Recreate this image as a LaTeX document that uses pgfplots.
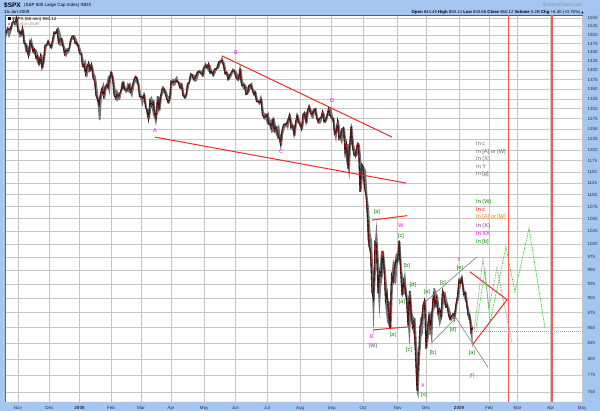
\documentclass[border=0pt]{standalone}
\usepackage{pgfplots}
\pgfplotsset{compat=1.18}
\usepackage{pgfplotstable}
\usepgfplotslibrary{fillbetween}
\usepackage{fontspec}
\setmainfont{Liberation Sans}
\newfontfamily\djv{DejaVu Sans}
\definecolor{frameblue}{RGB}{164,198,240}
\definecolor{mag}{RGB}{240,0,240}
\definecolor{ewgreen}{RGB}{0,140,0}
\definecolor{ewpurple}{RGB}{130,50,150}
\definecolor{eworange}{RGB}{255,120,0}
\definecolor{trendred}{RGB}{250,40,40}
\definecolor{vred}{RGB}{255,90,90}
\definecolor{gridgray}{RGB}{224,224,224}
\definecolor{projgreen}{RGB}{40,220,40}
\pgfplotstableread{
i hi lo cl
0 1508 1490 1506
1 1520 1507 1520
2 1520 1489 1516
3 1524 1503 1515
4 1535 1516 1535
5 1544 1535 1540
6 1540 1530 1531
7 1552 1529 1549
8 1548 1507 1509
9 1515 1492 1510
10 1510 1494 1502
11 1521 1499 1520
12 1515 1475 1476
13 1479 1450 1475
14 1474 1453 1453
15 1464 1439 1439
16 1482 1441 1482
17 1493 1466 1471
18 1473 1449 1452
19 1459 1443 1459
20 1459 1431 1434
21 1452 1419 1439
22 1436 1415 1417
23 1440 1418 1440
24 1446 1406 1407
25 1429 1407 1428
26 1470 1428 1470
27 1474 1464 1471
28 1488 1470 1481
29 1481 1470 1472
30 1471 1460 1463
31 1486 1463 1485
32 1508 1483 1508
33 1510 1502 1505
34 1518 1504 1515
35 1523 1476 1477
36 1511 1468 1486
37 1492 1469 1489
38 1488 1467 1468
39 1468 1445 1445
40 1460 1435 1455
41 1462 1446 1454
42 1461 1448 1460
43 1485 1463 1485
44 1497 1484 1496
45 1499 1488 1497
46 1498 1476 1476
47 1488 1468 1478
48 1477 1467 1468
49 1471 1443 1447
50 1456 1443 1447
51 1445 1411 1411
52 1423 1404 1416
53 1430 1389 1390
54 1410 1379 1409
55 1427 1396 1420
56 1417 1395 1401
57 1417 1403 1416
58 1412 1380 1380
59 1391 1365 1373
60 1383 1330 1333
61 1350 1313 1325
62 1322 1271 1310
63 1340 1271 1339
64 1355 1336 1352
65 1369 1330 1331
66 1353 1322 1353
67 1364 1350 1362
68 1385 1352 1355
69 1385 1335 1379
70 1396 1375 1395
71 1395 1379 1380
72 1380 1336 1336
73 1351 1325 1326
74 1347 1317 1336
75 1341 1324 1331
76 1341 1320 1340
77 1369 1340 1349
78 1369 1350 1367
79 1370 1347 1348
80 1350 1338 1349
81 1368 1344 1348
82 1363 1341 1360
83 1367 1339 1343
84 1354 1326 1353
85 1373 1347 1371
86 1388 1368 1381
87 1384 1365 1381
88 1380 1362 1364
89 1364 1329 1331
90 1336 1321 1331
91 1332 1305 1327
92 1344 1321 1334
93 1333 1304 1304
94 1303 1279 1294
95 1296 1272 1273
96 1321 1275 1321
97 1333 1306 1308
98 1321 1283 1316
99 1321 1274 1289
100 1284 1256 1277
101 1331 1283 1331
102 1331 1299 1299
103 1330 1295 1330
104 1359 1330 1350
105 1357 1341 1352
106 1352 1336 1342
107 1345 1325 1326
108 1334 1312 1316
109 1328 1313 1323
110 1371 1326 1371
111 1378 1361 1368
112 1375 1358 1370
113 1380 1362 1370
114 1386 1369 1373
115 1371 1360 1366
116 1368 1350 1354
117 1367 1350 1361
118 1361 1332 1333
119 1335 1324 1329
120 1337 1325 1335
121 1366 1335 1365
122 1368 1358 1366
123 1395 1370 1390
124 1390 1383 1389
125 1389 1371 1376
126 1386 1370 1379
127 1396 1370 1388
128 1398 1380 1397
129 1402 1394 1396
130 1398 1390 1391
131 1404 1384 1386
132 1410 1383 1409
133 1422 1406 1414
134 1415 1405 1407
135 1419 1397 1418
136 1418 1392 1393
137 1405 1390 1397
138 1395 1382 1389
139 1404 1386 1404
140 1407 1396 1403
141 1420 1404 1408
142 1424 1405 1424
143 1427 1418 1426
144 1440 1421 1427
145 1427 1406 1414
146 1419 1388 1391
147 1399 1388 1394
148 1394 1373 1376
149 1387 1373 1386
150 1394 1381 1393
151 1406 1390 1399
152 1404 1396 1400
153 1400 1377 1385
154 1396 1373 1378
155 1386 1370 1377
156 1405 1377 1404
157 1404 1359 1361
158 1370 1350 1361
159 1366 1351 1358
160 1361 1335 1336
161 1354 1336 1339
162 1361 1340 1360
163 1365 1350 1361
164 1368 1350 1350
165 1350 1333 1338
166 1347 1330 1342
167 1342 1317 1318
168 1323 1315 1318
169 1323 1308 1315
170 1336 1315 1322
171 1321 1283 1283
172 1288 1272 1278
173 1290 1274 1280
174 1285 1261 1285
175 1292 1261 1262
176 1272 1252 1263
177 1273 1240 1253
178 1274 1242 1273
179 1277 1245 1245
180 1257 1236 1254
181 1254 1225 1240
182 1262 1228 1229
183 1234 1200 1215
184 1246 1211 1245
185 1263 1241 1260
186 1263 1253 1261
187 1267 1255 1261
188 1277 1248 1272
189 1291 1269 1283
190 1282 1251 1252
191 1263 1251 1257
192 1257 1234 1235
193 1264 1233 1264
194 1285 1264 1284
195 1285 1264 1267
196 1270 1254 1260
197 1260 1247 1249
198 1285 1249 1285
199 1291 1276 1290
200 1289 1264 1266
201 1297 1263 1296
202 1313 1293 1305
203 1304 1285 1289
204 1294 1274 1285
205 1301 1276 1293
206 1301 1290 1298
207 1303 1275 1278
208 1278 1263 1267
209 1277 1262 1275
210 1280 1264 1278
211 1294 1278 1292
212 1292 1266 1267
213 1276 1263 1271
214 1288 1269 1282
215 1300 1282 1300
216 1300 1282 1283
217 1303 1272 1277
218 1280 1265 1275
219 1274 1237 1237
220 1244 1217 1242
221 1274 1247 1268
222 1270 1224 1225
223 1243 1221 1231
224 1250 1212 1250
225 1256 1234 1252
226 1250 1192 1193
227 1214 1170 1214
228 1214 1156 1157
229 1211 1133 1206
230 1265 1213 1255
231 1255 1206 1207
232 1214 1187 1188
233 1197 1180 1186
234 1220 1187 1209
235 1215 1187 1213
236 1210 1106 1106
237 1170 1107 1166
238 1166 1141 1161
239 1160 1112 1115
240 1153 1097 1099
241 1097 1008 1056
242 1072 996 996
243 1022 968 985
244 1005 909 910
245 937 840 899
246 1006 912 1003
247 1045 972 998
248 995 908 908
249 948 866 946
250 985 918 940
251 986 937 986
252 985 953 955
253 955 883 896
254 922 860 909
255 895 853 877
256 893 846 848
257 941 849 941
258 970 922 930
259 964 928 954
260 984 923 969
261 975 958 966
262 1007 971 1006
263 1003 952 953
264 952 900 905
265 931 906 931
266 951 907 919
267 918 884 899
268 897 852 853
269 913 818 912
270 912 868 873
271 873 848 851
272 866 835 860
273 865 806 807
274 820 747 752
275 801 741 800
276 865 801 852
277 868 835 857
278 888 841 887
279 897 887 896
280 896 815 816
281 850 818 849
282 871 837 871
283 875 840 846
284 879 819 876
285 918 877 910
286 917 883 889
287 908 885 899
288 904 868 873
289 883 851 880
290 880 860 869
291 914 869 913
292 911 895 904
293 911 883 885
294 897 883 888
295 887 866 872
296 880 862 864
297 869 861 869
298 873 866 873
299 874 858 870
300 891 870 890
301 910 889 903
302 934 899 932
303 936 919 927
304 943 927 935
305 927 902 907
306 910 896 910
307 911 888 891
308 890 864 871
309 877 862 872
310 867 836 842
311 852 817 850
}\spx
\tikzset{ew/.style={font=\fontsize{5.5}{6}\selectfont, inner sep=0pt},
         tb/.style={font=\fontsize{5.6}{6}\selectfont, inner sep=0pt, anchor=west}}
\begin{document}
\begin{tikzpicture}
\fill[frameblue, even odd rule] (0pt,0pt) rectangle (600pt,411pt) (5pt,9pt) rectangle (583pt,396pt);
\begin{axis}[
  at={(5pt,9pt)}, anchor=south west,
  scale only axis, width=578pt, height=387pt,
  xmin=-0.667, xmax=384.667,
  ymode=log, ymin=735.6, ymax=1559,
  axis background/.style={fill=white},
  axis line style={draw=black!65},
  xtick={8,29,49,70,90,110,132,153,174,196,217,238,261,280,302,322,341,363,384},
  xticklabels={Nov,Dec,\textbf{2008},Feb,Mar,Apr,May,Jun,Jul,Aug,Sep,Oct,Nov,Dec,\textbf{2009},Feb,Mar,Apr,May},
  minor x tick num=3,
  xtick pos=bottom, ytick pos=right,
  ytick={750,775,800,825,850,875,900,925,950,975,1000,1025,1050,1075,1100,1125,1150,1175,1200,1225,1250,1275,1300,1325,1350,1375,1400,1425,1450,1475,1500,1525,1550},
  yticklabels={750,775,800,825,850,875,900,925,950,975,1000,1025,1050,1075,1100,1125,1150,1175,1200,1225,1250,1275,1300,1325,1350,1375,1400,1425,1450,1475,1500,1525,1550},
  yminorticks=false,
  yticklabel pos=right,
  tick align=outside,
  major tick length=2pt, minor tick length=0pt,
  tick style={black!65},
  xmajorgrids, xminorgrids, ymajorgrids,
  major grid style={draw=black!22, line width=0.4pt},
  minor grid style={draw=gridgray, line width=0.4pt},
  tick label style={font=\fontsize{4.5}{5}\selectfont, text=black!80},
  xticklabel style={yshift=1pt},
  yticklabel style={xshift=-1pt},
]
% red verticals
\addplot[vred, line width=0.9pt] coordinates {(334.7,735.6) (334.7,1559)};
\addplot[vred, line width=1.1pt] coordinates {(364.0,735.6) (364.0,1559)};
% last price dotted line
\addplot[black!35, dash pattern=on 1pt off 1pt, line width=0.6pt] coordinates {(312,843) (384.667,843)};
% price: range shading, close line
\addplot[name path=H, draw=none] table[x=i,y=hi]{\spx};
\addplot[name path=L, draw=none] table[x=i,y=lo]{\spx};
\addplot[black!55] fill between[of=H and L];
\addplot[black, line width=1.1pt] table[x=i,y=cl]{\spx};
\addplot[red!80!white, line width=0.3pt, opacity=0.85] table[x=i,y=cl]{\spx};
% trend lines
\addplot[trendred, line width=1pt] coordinates {(144,1440) (257.3,1230)};
\addplot[trendred, line width=1pt] coordinates {(99.3,1230) (266.7,1125)};
\addplot[trendred, line width=1pt] coordinates {(244,1047) (267.3,1056)};
\addplot[trendred, line width=1pt] coordinates {(244.7,846) (268,851)};
\addplot[trendred, line width=1pt] coordinates {(309.3,947) (334,897) (311.3,823)};
% gray channel
\addplot[black!50, line width=0.6pt] coordinates {(279.3,893) (314,975)};
\addplot[black!50, line width=0.6pt] coordinates {(284,826) (300,866)};
\addplot[black!50, line width=0.6pt] coordinates {(300,866) (321.3,787)};
% projections
\addplot[black!40, dash pattern=on 1.5pt off 1pt, line width=0.7pt] coordinates {(312,843) (318,971) (322,883) (327.3,954) (337.3,825)};
\addplot[projgreen, dash pattern=on 1.5pt off 1pt, line width=0.7pt] coordinates {(313.3,849) (319.3,950) (322.7,859) (333.3,994) (339.3,911) (348.7,1031) (359.3,849)};
\end{axis}
\begin{scope}[x=1pt,y=-1pt,shift={(0pt,411pt)}]
% header
\node[anchor=west, inner sep=0pt, font=\fontsize{6.5}{7}\selectfont\bfseries] at (4,5) {\$SPX};
\node[anchor=west, inner sep=0pt, font=\fontsize{4.5}{5}\selectfont] at (24,5) {(S\&P 500 Large Cap Index) INDX};
\node[anchor=west, inner sep=0pt, font=\fontsize{4.5}{5}\selectfont] at (4,11.5) {15-Jan-2009};
\node[anchor=east, inner sep=0pt, font=\fontsize{4.5}{5}\selectfont, text=black!45] at (582,5) {@StockCharts.com};
\node[anchor=east, inner sep=0pt, font=\fontsize{4.3}{5}\selectfont] at (584,12) {\textbf{Open} 844.45 \textbf{High} 858.13 \textbf{Low} 830.66 \textbf{Close} 850.12 \textbf{Volume} 5.2B \textbf{Chg} +6.30 (+0.75\%) {\djv\fontsize{3}{4}\selectfont ▲}};
% legend
\fill[black] (7.5,17.5) rectangle (10.5,20.5);
\node[anchor=west, inner sep=0pt, font=\fontsize{4.5}{5}\selectfont] at (12,19) {\$SPX (60 min) 850.12};
\fill[black!35] (7.5,22.7) rectangle (10,25.2);
\node[anchor=west, inner sep=0pt, font=\fontsize{4.5}{5}\selectfont, text=black!40] at (12,24) {Volume undef};
% Elliott wave labels
\node[ew, text=mag] at (155,131) {A};
\node[ew, text=mag] at (236,53) {B};
\node[ew, text=mag] at (281,152) {C};
\node[ew, text=mag] at (332,101) {D};
\node[ew, text=mag] at (372,337) {E};
\node[ew, text=ewpurple] at (373,346) {(W)};
\node[ew, text=mag] at (401,226) {W};
\node[ew, text=mag] at (423,386) {X};
\node[ew, text=mag] at (459,260) {Y};
\node[ew, text=ewgreen] at (377,212) {[a]};
\node[ew, text=ewgreen] at (401,236) {[c]};
\node[ew, text=ewgreen] at (407,266) {[b]};
\node[ew, text=ewgreen] at (402,302) {[a]};
\node[ew, text=ewgreen] at (413,285) {[d]};
\node[ew, text=ewgreen] at (393,335) {[a]};
\node[ew, text=ewgreen] at (409,350) {[c]};
\node[ew, text=ewgreen] at (424,395) {[x]};
\node[ew, text=ewgreen] at (433,353) {[b]};
\node[ew, text=ewgreen] at (427,292) {[a]};
\node[ew, text=ewgreen] at (443,283) {[c]};
\node[ew, text=ewgreen] at (453,330) {[d]};
\node[ew, text=ewgreen] at (460,268) {[e]};
\node[ew, text=ewgreen] at (472,353) {[a]};
\node[ew, text=black!50] at (472,376) {[f]};
% text block
\node[tb, text=black!60] at (476,144) {In c};
\node[tb, text=black!60] at (476,152) {In [A] or [W]};
\node[tb, text=black!60] at (476,159.5) {In (X)};
\node[tb, text=black!60] at (476,167) {In Y};
\node[tb, text=black!60] at (476,174.5) {In [g]};
\node[tb, text=ewgreen] at (476,202) {In (W)};
\node[tb, text=red] at (476,209.5) {In c};
\node[tb, text=eworange] at (476,217.5) {In [A] or [W]};
\node[tb, text=ewpurple] at (476,226) {In (X)};
\node[tb, text=mag] at (476,234) {In XX};
\node[tb, text=ewgreen] at (476,242) {In [b]};
\end{scope}
\pgfresetboundingbox
\path[use as bounding box] (0pt,0pt) rectangle (600pt,411pt);
\end{tikzpicture}
\end{document}
